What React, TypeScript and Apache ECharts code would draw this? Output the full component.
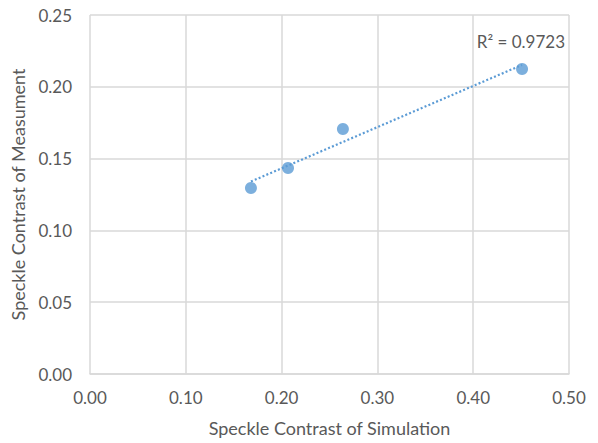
import React, { useEffect, useRef } from "react";
import * as echarts from "echarts";

const simulation = [0.168, 0.2067, 0.264, 0.451];
const measurement = [0.1295, 0.1435, 0.1706, 0.2124];
const xTitle = "Speckle Contrast of Simulation";
const yTitle = "Speckle Contrast of Measument";
const r2Label = "R² = 0.9723";

function fitLine(xs: number[], ys: number[]) {
  const n = xs.length;
  const mx = xs.reduce((a, b) => a + b, 0) / n;
  const my = ys.reduce((a, b) => a + b, 0) / n;
  let sxy = 0, sxx = 0;
  for (let i = 0; i < n; i++) {
    sxy += (xs[i] - mx) * (ys[i] - my);
    sxx += (xs[i] - mx) ** 2;
  }
  const slope = sxy / sxx;
  const intercept = my - slope * mx;
  const x0 = Math.min(...xs);
  const x1 = Math.max(...xs);
  return [
    [x0, intercept + slope * x0],
    [x1, intercept + slope * x1],
  ];
}

export default function App() {
  const ref = useRef<HTMLDivElement>(null);
  useEffect(() => {
    if (!ref.current) return;
    const chart = echarts.init(ref.current, undefined, { renderer: "svg" });
    const font = "Lato, 'Open Sans', sans-serif";
    const textColor = "#595959";
    const gridColor = "#d9d9d9";
    const trend = fitLine(simulation, measurement);
    chart.setOption({
      animation: false,
      backgroundColor: "#ffffff",
      grid: { left: 90, right: 29, top: 15, bottom: 69 },
      xAxis: {
        type: "value",
        min: 0,
        max: 0.5,
        interval: 0.1,
        name: xTitle,
        nameLocation: "middle",
        nameGap: 45,
        nameTextStyle: { color: textColor, fontSize: 18, fontFamily: font },
        axisLine: { show: true, lineStyle: { color: gridColor, width: 1.5 } },
        axisTick: { show: false },
        splitLine: { show: true, lineStyle: { color: gridColor, width: 1.5 } },
        axisLabel: {
          color: textColor,
          fontSize: 17,
          fontFamily: font,
          margin: 15,
          formatter: (v: number) => v.toFixed(2),
        },
      },
      yAxis: {
        type: "value",
        min: 0,
        max: 0.25,
        interval: 0.05,
        name: yTitle,
        nameLocation: "middle",
        nameGap: 63,
        nameTextStyle: { color: textColor, fontSize: 18, fontFamily: font },
        axisLine: { show: false },
        axisTick: { show: false },
        splitLine: { show: true, lineStyle: { color: gridColor, width: 1.5 } },
        axisLabel: {
          color: textColor,
          fontSize: 17,
          fontFamily: font,
          margin: 18,
          formatter: (v: number) => v.toFixed(2),
        },
      },
      series: [
        {
          type: "line",
          data: trend,
          showSymbol: false,
          symbol: "none",
          lineStyle: { color: "#5b9bd5", width: 2.2, type: [2, 2.2] },
          silent: true,
          z: 1,
        },
        {
          type: "scatter",
          data: simulation.map((x, i) => [x, measurement[i]]),
          symbol: "circle",
          symbolSize: 12,
          itemStyle: { color: "#5b9bd5" },
          z: 2,
        },
      ],
      graphic: [
        {
          type: "text",
          right: 33,
          top: 33,
          style: {
            text: r2Label,
            fill: textColor,
            fontSize: 17,
            fontFamily: font,
          },
        },
      ],
    });
    return () => chart.dispose();
  }, []);
  return (
    <div
      ref={ref}
      style={{ position: "fixed", left: 0, top: 0, width: 598, height: 443 }}
    />
  );
}
